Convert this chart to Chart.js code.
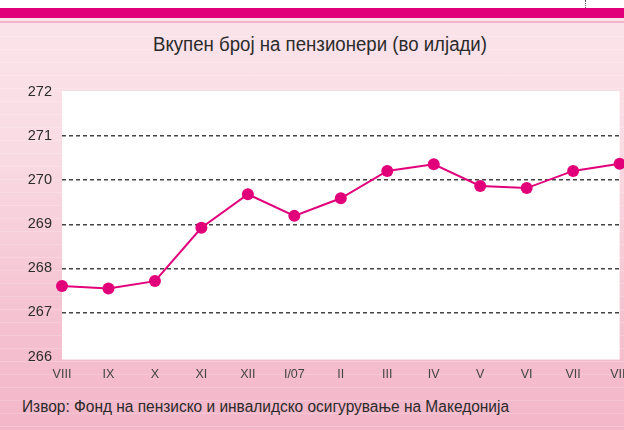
<!DOCTYPE html>
<html>
<head>
<meta charset="utf-8">
<script src="https://cdn.jsdelivr.net/npm/chart.js@4"></script>
<style>
  html, body { margin: 0; padding: 0; }
  body {
    width: 624px; height: 430px; overflow: hidden; position: relative;
    background: linear-gradient(to bottom, #ffffff 0px, #ffffff 8px, #e2007a 8px, #e2007a 18px, #fbe3ea 18px, #fbe3ea 21px, #f6b3cc 21px, #f6b3cc 23px, #fbe3ea 23px, #f9dbe4 150px, #f5c4d3 300px, #f3b6c8 430px);
    font-family: 'Liberation Sans', Arial, sans-serif;
  }
  .stripes {
    position: absolute; left: 0; top: 24px; width: 624px; height: 406px;
    background: repeating-linear-gradient(to bottom, rgba(255,255,255,0) 0px, rgba(255,255,255,0) 12px, rgba(255,255,255,0.18) 12px, rgba(255,255,255,0.18) 13px);
  }
  .dots { position: absolute; left: 585px; top: 0; height: 8px; border-left: 1px dotted #555; }
  #wrap { position: absolute; left: 0; top: 0; width: 640px; height: 430px; }
  .title { position: absolute; top: 33px; left: 0; font-size: 20px; color: #2b2b2b; white-space: nowrap; line-height: normal; }
  .src { position: absolute; top: 398px; left: 22px; font-size: 16px; color: #2b2b2b; white-space: nowrap; line-height: normal; }
</style>
</head>
<body>
<div class="stripes"></div>
<div class="dots"></div>
<div class="title" id="title">Вкупен број на пензионери (во илјади)</div>
<div class="src" id="src">Извор: Фонд на пензиско и инвалидско осигурување на Македонија</div>
<div id="wrap"><canvas id="c" width="640" height="430"></canvas></div>
<script>
const categories = ['VIII','IX','X','XI','XII','I/07','II','III','IV','V','VI','VII','VIII'];
const pensioners = [267.60, 267.54, 267.71, 268.92, 269.68, 269.19, 269.59, 270.21, 270.36, 269.87, 269.82, 270.21, 270.37];
const yTicks = [266, 267, 268, 269, 270, 271, 272];

const FONT = "'Liberation Sans', Arial, sans-serif";
const MAGENTA = '#e2007a';

// narrow the HTML texts horizontally to match the condensed face of the original
function fitText(id, left, width) {
  const el = document.getElementById(id);
  const w = el.getBoundingClientRect().width;
  el.style.transformOrigin = '0 0';
  el.style.left = left + 'px';
  el.style.transform = 'scaleX(' + (width / w) + ')';
}
fitText('title', 153, 334);
fitText('src', 22, 487);

const plotBg = {
  id: 'plotBg',
  beforeDraw(chart) {
    const a = chart.chartArea, ctx = chart.ctx;
    ctx.save();
    ctx.fillStyle = '#ffffff';
    ctx.fillRect(a.left, a.top - 1, a.right - a.left, a.bottom - a.top + 4);
    ctx.restore();
  }
};

new Chart(document.getElementById('c'), {
  type: 'line',
  data: {
    labels: categories,
    datasets: [{
      data: pensioners,
      borderColor: MAGENTA,
      backgroundColor: MAGENTA,
      borderWidth: 2,
      pointRadius: 6,
      pointHoverRadius: 6,
      pointBackgroundColor: MAGENTA,
      pointBorderColor: MAGENTA,
      pointBorderWidth: 0,
      tension: 0,
      clip: false
    }]
  },
  options: {
    responsive: false,
    animation: false,
    devicePixelRatio: 1,
    layout: { padding: { top: 92, right: 18, bottom: 43.5, left: 0 } },
    plugins: { legend: { display: false }, title: { display: false }, tooltip: { enabled: false } },
    scales: {
      x: {
        type: 'category',
        offset: false,
        border: { display: false },
        grid: { display: false, drawTicks: false },
        ticks: { color: '#444', font: { family: FONT, size: 12.5 }, padding: 11, maxRotation: 0, autoSkip: false },
        afterFit(s) { s.height = 30; }
      },
      y: {
        min: 266, max: 272,
        afterBuildTicks(s) { s.ticks = yTicks.map(v => ({ value: v })); },
        border: { display: false, dash: [4, 3] },
        grid: {
          drawTicks: false,
          color: ctx => (ctx.tick && (ctx.tick.value === 266 || ctx.tick.value === 272)) ? 'rgba(0,0,0,0)' : '#444',
          lineWidth: 1.5
        },
        ticks: { color: '#2b2b2b', font: { family: FONT, size: 14.5 }, padding: 10 },
        afterFit(s) { s.width = 62; }
      }
    }
  },
  plugins: [plotBg]
});
</script>
</body>
</html>
